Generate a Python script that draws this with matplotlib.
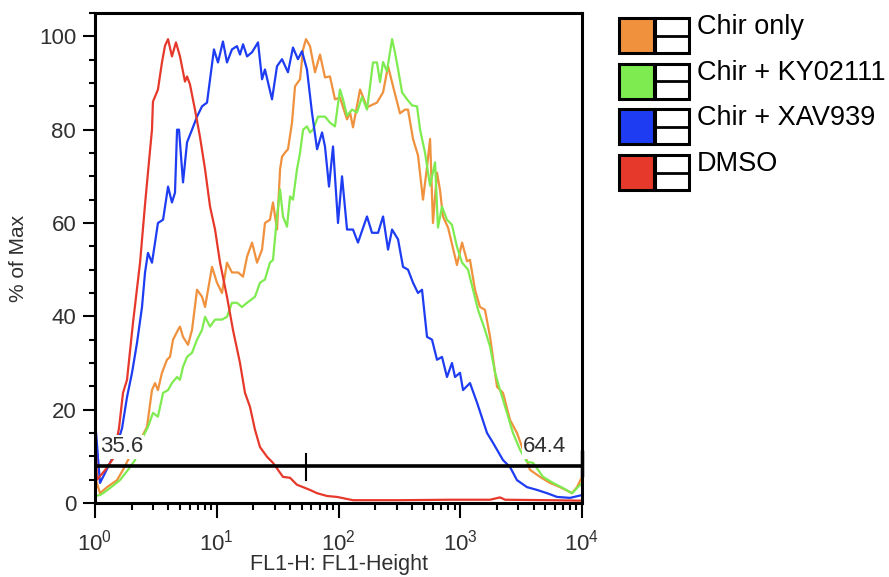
import numpy as np
import matplotlib
matplotlib.use("Agg")
import matplotlib.pyplot as plt
from matplotlib.patches import Rectangle
from matplotlib.ticker import LogLocator, MultipleLocator, FixedLocator, NullFormatter

plt.rcParams['font.family'] = ['Liberation Sans', 'DejaVu Sans']
plt.rcParams['mathtext.fontset'] = 'custom'
plt.rcParams['mathtext.rm'] = 'Liberation Sans'
plt.rcParams['mathtext.it'] = 'Liberation Sans'

# decade exponent (log10 of FL1-H) and % of max for each sample
dmso_log = [0.000, 0.016, 0.082, 0.148, 0.197, 0.230, 0.263, 0.312, 0.370, 0.411, 0.435, 0.468, 0.476,
            0.517, 0.550, 0.575, 0.600, 0.632, 0.665, 0.698, 0.739, 0.756, 0.780, 0.821, 0.862, 0.904,
            0.945, 0.986, 1.027, 1.084, 1.134, 1.191, 1.232, 1.273, 1.314, 1.355, 1.413, 1.462, 1.503,
            1.544, 1.602, 1.659, 1.709, 1.766, 1.824, 1.906, 1.988, 2.119, 2.505, 2.916, 3.245, 3.327,
            3.368, 3.737, 4.000]
dmso_pct = [17, 5, 7, 9.5, 16, 23.6, 26.4, 38.6, 51.5, 64, 70.8, 80, 86,
            88.6, 94.4, 98, 99.4, 95.7, 98.7, 95.7, 90.3, 91.4, 89.7, 84.3, 78.5, 71.5,
            63.5, 58.6, 51.5, 44.2, 37, 30, 23.6, 20.6, 15.7, 12, 9.9, 8.6, 7.1,
            5.6, 5.4, 3.9, 3.4, 2.8, 2.1, 1.5, 1.3, 0.6, 0.6, 0.7, 0.7, 1.2,
            0.7, 0.6, 0.5]

xav_log = [0.000, 0.041, 0.082, 0.123, 0.148, 0.222, 0.263, 0.304, 0.345, 0.386, 0.411, 0.435, 0.468,
           0.493, 0.517, 0.559, 0.600, 0.632, 0.657, 0.674, 0.690, 0.723, 0.756, 0.797, 0.838, 0.879,
           0.920, 0.945, 0.977, 1.010, 1.051, 1.084, 1.125, 1.166, 1.191, 1.216, 1.249, 1.290, 1.339,
           1.372, 1.396, 1.454, 1.495, 1.536, 1.585, 1.626, 1.667, 1.700, 1.741, 1.782, 1.824, 1.865,
           1.889, 1.922, 1.955, 1.996, 2.029, 2.070, 2.119, 2.160, 2.234, 2.275, 2.325, 2.366, 2.407,
           2.440, 2.489, 2.530, 2.571, 2.612, 2.653, 2.686, 2.727, 2.768, 2.809, 2.850, 2.891, 2.932,
           2.957, 2.998, 3.023, 3.080, 3.138, 3.220, 3.269, 3.351, 3.409, 3.466, 3.548, 3.631, 3.713,
           3.795, 3.902, 4.000]
xav_pct = [18, 4.3, 6.4, 8.6, 9.9, 16, 22.7, 27.9, 34.3, 42, 49.4, 53.6, 51.5,
           55.8, 60, 60.7, 67.8, 64.4, 66.5, 80, 80, 68.7, 77.3, 80, 82.8, 85,
           85.8, 90.8, 97.2, 94.4, 98.9, 94.4, 97.2, 97.9, 96.1, 98.3, 95.7, 96.6, 98.7,
           90.8, 92.9, 86.5, 93.6, 95.1, 92.3, 97.6, 95.1, 96.8, 92.9, 83.7, 75.8, 79.4,
           76.4, 67.8, 76.4, 60, 70, 58.6, 58.6, 55.8, 61.4, 57.9, 57.9, 61.4, 54.3,
           58.6, 56.5, 50.6, 50, 47.2, 45, 45.7, 35.6, 35, 30.7, 31.3, 27, 30,
           27, 27.9, 24.2, 25.7, 21.5, 15, 12.9, 9.2, 7.7, 4.9, 3.4, 2.8, 2.1,
           1.3, 1.1, 1.7]

chir_log = [0.000, 0.008, 0.041, 0.099, 0.181, 0.230, 0.271, 0.353, 0.427, 0.468, 0.493, 0.517, 0.550,
            0.591, 0.616, 0.641, 0.682, 0.698, 0.723, 0.764, 0.797, 0.838, 0.879, 0.904, 0.961, 1.002,
            1.043, 1.084, 1.125, 1.175, 1.216, 1.249, 1.290, 1.331, 1.372, 1.396, 1.437, 1.462, 1.495,
            1.520, 1.536, 1.561, 1.585, 1.618, 1.643, 1.684, 1.709, 1.733, 1.766, 1.807, 1.848, 1.889,
            1.930, 1.971, 2.012, 2.070, 2.095, 2.119, 2.177, 2.234, 2.316, 2.366, 2.407, 2.448, 2.505,
            2.546, 2.571, 2.612, 2.653, 2.694, 2.727, 2.752, 2.776, 2.809, 2.834, 2.858, 2.900, 2.932,
            2.973, 3.015, 3.056, 3.080, 3.121, 3.162, 3.203, 3.245, 3.302, 3.351, 3.409, 3.466, 3.516,
            3.573, 3.655, 3.737, 3.820, 3.918, 3.959, 4.000]
chir_pct = [0, 4.9, 2.1, 3.4, 4.9, 7.1, 9.2, 12.5, 16.3, 24.2, 25.7, 24.2, 27.9,
            30.7, 31.3, 35, 37.1, 37.8, 35.6, 33.9, 37.1, 45.7, 44.2, 42, 50.6, 47.2,
            45, 51.5, 49.4, 49.4, 48.5, 52.8, 55.8, 51.5, 54.3, 60, 60.7, 64.4, 58.6,
            71.5, 74.2, 75.1, 75.8, 81.5, 89.3, 90.8, 97.2, 99.4, 97.9, 92.3, 96.1, 91.2,
            91.4, 86.5, 86.9, 82.2, 83.7, 80.5, 88.6, 84.8, 85.8, 88, 93.6, 89.3, 83.5,
            84.3, 84.3, 78, 74.5, 65, 72, 78, 60, 70.8, 67, 61.4, 59, 55.5,
            51, 55.8, 51.8, 52.1, 45.7, 42, 41.4, 35.6, 24.9, 23.6, 17.8, 15, 11.4,
            7.1, 5.6, 4.3, 3.4, 2.1, 3.4, 5.6]

ky_log = [0.000, 0.041, 0.066, 0.123, 0.205, 0.271, 0.329, 0.394, 0.435, 0.476, 0.517, 0.559, 0.600,
          0.632, 0.674, 0.698, 0.723, 0.756, 0.797, 0.838, 0.879, 0.904, 0.945, 0.986, 1.043, 1.084,
          1.125, 1.166, 1.207, 1.249, 1.314, 1.355, 1.396, 1.437, 1.462, 1.495, 1.520, 1.544, 1.577,
          1.602, 1.626, 1.659, 1.684, 1.709, 1.741, 1.766, 1.791, 1.832, 1.889, 1.930, 1.971, 2.012,
          2.037, 2.070, 2.111, 2.152, 2.193, 2.234, 2.259, 2.283, 2.316, 2.341, 2.366, 2.398, 2.440,
          2.464, 2.489, 2.522, 2.563, 2.604, 2.645, 2.670, 2.711, 2.752, 2.793, 2.817, 2.850, 2.891,
          2.932, 2.973, 3.015, 3.064, 3.105, 3.146, 3.203, 3.245, 3.286, 3.327, 3.384, 3.433, 3.491,
          3.548, 3.598, 3.680, 3.762, 3.844, 3.918, 3.959, 4.000]
ky_pct = [1.5, 1.7, 2.1, 3.2, 4.9, 7.1, 9.2, 14.2, 16.3, 19.3, 18.5, 23.6, 24.2,
          25.7, 27, 26.4, 29.2, 31.3, 32.2, 35, 37.1, 39.9, 37.8, 39.3, 39.3, 39.9,
          42.9, 42.9, 42, 42.9, 44.2, 47.2, 47.9, 51.5, 52.1, 61.4, 67.2, 61.4, 59.2,
          65.7, 65, 71.5, 75, 80, 80.7, 79.4, 80, 82.8, 82.8, 81.5, 80.7, 88.6,
          86.5, 83, 84.3, 83.7, 87, 84.3, 89.3, 94.4, 94.4, 90.2, 94.5, 92.5, 99.4,
          96.5, 93, 88, 86.5, 85.2, 85, 80, 75, 68, 73, 59, 63.5, 60.7,
          59.6, 54.9, 51.5, 50, 45.7, 41.4, 37.1, 33.5, 27.9, 24.2, 19.3, 15, 11.4,
          8.8, 8.6, 5.6, 4.3, 3.2, 2.1, 3.2, 4.3]

labels = ['Chir only', 'Chir + KY02111', 'Chir + XAV939', 'DMSO']
colors = ['#EF913D', '#7EEB50', '#1E3DF2', '#E6392C']
gate_level = 8
gate_split = 10 ** 1.733
gate_left, gate_right = '35.6', '64.4'

text_col = '#303030'

fig = plt.figure(figsize=(8.89, 5.77), dpi=100)
ax = fig.add_axes([95 / 889, 74 / 577, 487 / 889, 490 / 577])

series = [(chir_log, chir_pct), (ky_log, ky_pct), (xav_log, xav_pct), (dmso_log, dmso_pct)]
for (lx, py), c in zip(series, colors):
    ax.plot(10 ** np.array(lx), py, color=c, lw=1.6, zorder=2)

# gate
ax.plot([1, 1e4], [gate_level, gate_level], color='black', lw=2.6, zorder=3, solid_capstyle='butt')
ax.plot([1, 1], [6, 10], color='black', lw=2, zorder=3)
ax.plot([1e4, 1e4], [6, 11], color='black', lw=2.5, zorder=3, clip_on=False)
ax.plot([gate_split, gate_split], [5, 10.5], color='black', lw=1.5, zorder=3)
ax.text(10 ** 0.04, 12, gate_left, ha='left', va='center', fontsize=16, color=text_col, zorder=4,
        bbox=dict(fc='white', ec='none', pad=1))
ax.text(10 ** 3.87, 12, gate_right, ha='right', va='center', fontsize=16, color=text_col, zorder=4,
        bbox=dict(fc='white', ec='none', pad=1))

ax.set_xscale('log')
ax.set_xlim(1, 1e4)
ax.set_ylim(0, 105)
ax.xaxis.set_major_locator(FixedLocator([1, 10, 100, 1000, 10000]))
ax.set_xticklabels([r'$10^{0}$', r'$10^{1}$', r'$10^{2}$', r'$10^{3}$', r'$10^{4}$'])
ax.xaxis.set_minor_locator(LogLocator(base=10, subs=np.arange(2, 10)))
ax.xaxis.set_minor_formatter(NullFormatter())
ax.yaxis.set_major_locator(MultipleLocator(20))
ax.yaxis.set_minor_locator(MultipleLocator(5))

ax.tick_params(axis='x', which='major', length=11, width=1.5, labelsize=16, colors='black',
               labelcolor=text_col, pad=8)
ax.tick_params(axis='x', which='minor', length=5, width=1.5, colors='black')
ax.tick_params(axis='y', which='major', length=8.5, width=1.5, labelsize=16, colors='black',
               labelcolor=text_col, pad=5)
ax.tick_params(axis='y', which='minor', length=4.5, width=1.5, colors='black')
for s in ax.spines.values():
    s.set_linewidth(2.2)

ax.set_xlabel('FL1-H: FL1-Height', fontsize=15.5, color=text_col, labelpad=-1)
ax.set_ylabel('% of Max', fontsize=15, color=text_col, labelpad=8)

# legend drawn in figure pixel space
lg = fig.add_axes([0, 0, 1, 1])
lg.set_xlim(0, 889)
lg.set_ylim(577, 0)
lg.axis('off')
for i, (lab, c) in enumerate(zip(labels, colors)):
    top = 18 + i * 45.7
    lg.add_patch(Rectangle((619, top), 35, 35, fc=c, ec='black', lw=2.2))
    lg.add_patch(Rectangle((655, top), 34, 35, fc='white', ec='black', lw=2.2))
    lg.plot([655, 689], [top + 17.5, top + 17.5], color='black', lw=2)
    lg.text(697, top + 9, lab, ha='left', va='center', fontsize=19.5, color='black')

fig.savefig('out.png', dpi=100)
